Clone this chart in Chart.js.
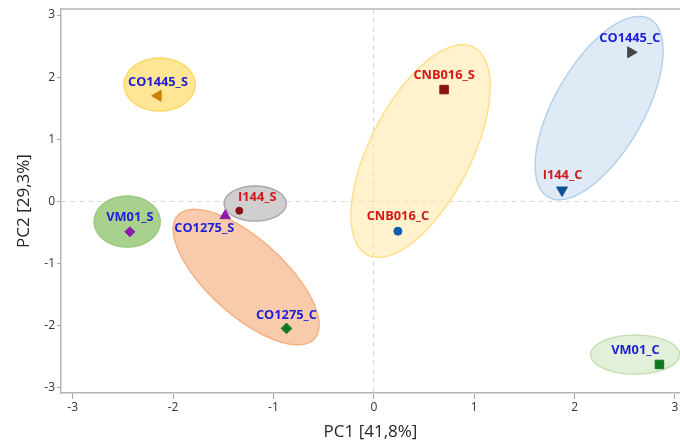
<!DOCTYPE html>
<html>
<head>
<meta charset="utf-8">
<script src="https://cdn.jsdelivr.net/npm/chart.js@4.4.0/dist/chart.umd.min.js"></script>
<style>
  html, body { margin: 0; padding: 0; background: #fff; }
</style>
</head>
<body>
<canvas id="pca" width="680" height="441"></canvas>
<script>
// samples and their scores on PC1 / PC2
const names = ["CO1445_S", "VM01_S", "I144_S", "CO1275_S", "CO1275_C", "CNB016_S", "CNB016_C", "CO1445_C", "I144_C", "VM01_C"];
const pc1 = [-2.15, -2.43, -1.34, -1.48, -0.87, 0.70, 0.24, 2.56, 1.875, 2.845];
const pc2 = [1.70, -0.49, -0.15, -0.23, -2.045, 1.80, -0.48, 2.40, 0.18, -2.625];

const xTicks = [-3, -2, -1, 0, 1, 2, 3];
const yTicks = [-3, -2, -1, 0, 1, 2, 3];

// group ellipses: centre + two half axes, in PC units
const ellCx = [-2.133, -2.457, -1.272, -1.182, 0.466, 2.244, 2.603];
const ellCy = [1.881, -0.325, -1.219, -0.035, 0.810, 1.502, -2.467];
const ellAx = [0.354, 0.329, 0.681, 0.309, 0.529, 0.507, 0.443];
const ellAy = [0, 0, -0.991, 0, 1.672, 1.432, 0];
const ellBx = [0, 0, 0.253, 0, -0.448, -0.386, 0];
const ellBy = [0.427, 0.411, 0.455, 0.282, 0.370, 0.358, 0.314];

// styling
const ellFill = ["#ffe596", "#a9d18e", "#f8cbad", "#d0cece", "rgba(255,230,153,0.5)", "rgba(189,215,238,0.5)", "#e2f0d9"];
const ellLine = ["#ffd966", "#9cc980", "#f4b183", "#a8a8a8", "#ffe08a", "#b4d0ea", "#c5e0b4"];

const markShape = ["triangle", "rectRot", "circle", "triangle", "rectRot", "rect", "circle", "triangle", "triangle", "rect"];
const markRot = [-90, 0, 0, 0, 0, 0, 0, 90, 180, 0];
const markSize = [6.3, 5, 3.5, 6, 5.3, 6, 4, 6.3, 6.3, 6];
const markColor = ["#c98006", "#8c1cab", "#8b1111", "#8c1cab", "#0d7a20", "#8b1111", "#0f5cb3", "#454545", "#0b5394", "#0d7a20"];

const BLUE = "#1e1ed8", RED = "#d41818";
const labColor = [BLUE, BLUE, RED, BLUE, BLUE, RED, RED, BLUE, RED, BLUE];
const labDx = [0, 0, 18, -21, 0, 0, 0, -1, 0.5, -24];
const labDy = [-13.5, -14.5, -13, 12.5, -13, -14, -14.5, -14, -15, -14];

const FONT = "'Open Sans', 'Noto Sans', sans-serif";

const ellipsePlugin = {
  id: "ellipses",
  beforeDatasetsDraw(chart) {
    const { ctx, chartArea, scales: { x, y } } = chart;
    ctx.save();
    ctx.beginPath();
    ctx.rect(chartArea.left, chartArea.top, chartArea.width, chartArea.height);
    ctx.clip();
    for (let i = 0; i < ellCx.length; i++) {
      ctx.beginPath();
      for (let k = 0; k <= 144; k++) {
        const t = k / 144 * 2 * Math.PI;
        const px = x.getPixelForValue(ellCx[i] + ellAx[i] * Math.cos(t) + ellBx[i] * Math.sin(t));
        const py = y.getPixelForValue(ellCy[i] + ellAy[i] * Math.cos(t) + ellBy[i] * Math.sin(t));
        if (k === 0) ctx.moveTo(px, py); else ctx.lineTo(px, py);
      }
      ctx.closePath();
      ctx.fillStyle = ellFill[i];
      ctx.fill();
      ctx.strokeStyle = ellLine[i];
      ctx.lineWidth = 1.5;
      ctx.stroke();
    }
    ctx.restore();
  }
};

const labelPlugin = {
  id: "pointLabels",
  afterDatasetsDraw(chart) {
    const { ctx, chartArea } = chart;
    ctx.save();
    // top frame line
    ctx.strokeStyle = "#b4b4b4";
    ctx.lineWidth = 1.5;
    ctx.beginPath();
    ctx.moveTo(chartArea.left, chartArea.top);
    ctx.lineTo(chartArea.right, chartArea.top);
    ctx.stroke();

    ctx.font = "bold 12.8px " + FONT;
    ctx.textAlign = "center";
    ctx.textBaseline = "middle";
    names.forEach((n, i) => {
      const pt = chart.getDatasetMeta(i).data[0];
      ctx.fillStyle = labColor[i];
      ctx.fillText(n, pt.x + labDx[i], pt.y + labDy[i]);
    });
    ctx.restore();
  }
};

new Chart(document.getElementById("pca"), {
  type: "scatter",
  data: {
    datasets: names.map((n, i) => ({
      label: n,
      data: [{ x: pc1[i], y: pc2[i] }],
      pointStyle: markShape[i],
      rotation: markRot[i],
      pointRadius: markSize[i],
      backgroundColor: markColor[i],
      borderColor: markColor[i],
      borderWidth: 1
    }))
  },
  options: {
    responsive: false,
    animation: false,
    devicePixelRatio: 1,
    layout: { autoPadding: false, padding: { top: 9, right: 0, left: 0, bottom: 0 } },
    plugins: { legend: { display: false }, tooltip: { enabled: false } },
    scales: {
      x: {
        type: "linear",
        min: -3.116,
        max: 3.05,
        afterBuildTicks: (s) => { s.ticks = xTicks.map(v => ({ value: v })); },
        afterFit: (s) => { s.height = 48; s.paddingLeft = 0; s.paddingRight = 0; },
        ticks: { color: "#333", font: { family: FONT, size: 12 }, padding: 1 },
        grid: {
          color: (c) => (c.tick && c.tick.value === 0 ? "#d9d9d9" : "transparent"),
          tickColor: "#a6a6a6",
          tickLength: 6,
          lineWidth: 1
        },
        border: { color: "#b4b4b4", width: 1.5, dash: [5, 4] },
        title: { display: true, text: "PC1 [41,8%]", color: "#262626", font: { family: FONT, size: 17, lineHeight: 1 }, padding: { top: 0, bottom: 0 } }
      },
      y: {
        type: "linear",
        min: -3.085,
        max: 3.097,
        afterBuildTicks: (s) => { s.ticks = yTicks.map(v => ({ value: v })); },
        afterFit: (s) => { s.width = 61; s.paddingTop = 0; s.paddingBottom = 0; },
        ticks: { color: "#333", font: { family: FONT, size: 12 }, padding: 2 },
        grid: {
          color: (c) => (c.tick && c.tick.value === 0 ? "#d9d9d9" : "transparent"),
          tickColor: "#a6a6a6",
          tickLength: 4,
          lineWidth: 1
        },
        border: { color: "#b4b4b4", width: 1.5, dash: [5, 4] },
        title: { display: true, text: "PC2 [29,3%]", color: "#262626", font: { family: FONT, size: 17 }, padding: { top: 14, bottom: 0 } }
      }
    }
  },
  plugins: [ellipsePlugin, labelPlugin]
});
</script>
</body>
</html>
